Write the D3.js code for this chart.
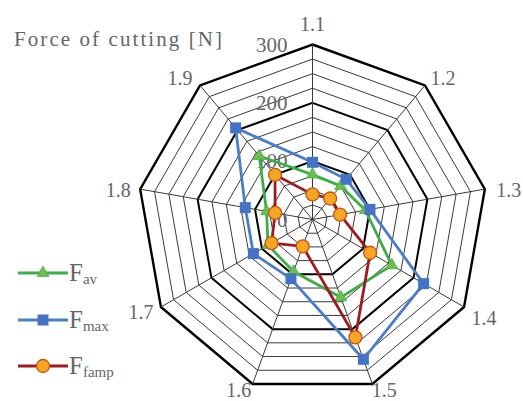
<!DOCTYPE html>
<html>
<head>
<meta charset="utf-8">
<script src="https://cdn.jsdelivr.net/npm/d3@7"></script>
<style>
  body { margin: 0; background: #fff; }
</style>
</head>
<body>
<svg id="radar" width="523" height="401" font-family="'Liberation Serif', 'Times New Roman', Times, 'DejaVu Serif', serif"></svg>
<script>
// data
var categories = ["1.1", "1.2", "1.3", "1.4", "1.5", "1.6", "1.7", "1.8", "1.9"];
var fAv   = [77, 75, 92, 157, 142, 95, 88, 80, 142];
var fMax  = [98, 90, 100, 220, 255, 108, 117, 117, 205];
var fFamp = [43, 47, 48, 114, 215, 49, 81, 65, 100];
var ringValues = d3.range(25, 301, 25);
var axisLabels = [0, 100, 200, 300];

var svg = d3.select("#radar");
var cx = 312.5, cy = 219.5;
var textColor = "#666";

var r = d3.scaleLinear().domain([0, 300]).range([0, 175]);
var angle = d3.scaleLinear().domain([0, categories.length]).range([0, 2 * Math.PI]);

function px(i, v) { return cx + r(v) * Math.sin(angle(i)); }
function py(i, v) { return cy - r(v) * Math.cos(angle(i)); }

var g = svg.append("g");

// rings
ringValues.forEach(function(v) {
  var pts = categories.map(function(c, i) { return [px(i, v), py(i, v)]; });
  var major = v % 100 === 0;
  g.append("polygon")
    .attr("points", pts.map(function(p) { return p.join(","); }).join(" "))
    .attr("fill", "none")
    .attr("stroke", major ? "#000" : "#3a3a3a")
    .attr("stroke-width", v === 300 ? 2.4 : (major ? 2 : 1));
});

// spokes
categories.forEach(function(c, i) {
  g.append("line")
    .attr("x1", cx).attr("y1", cy)
    .attr("x2", px(i, 300)).attr("y2", py(i, 300))
    .attr("stroke", "#3a3a3a").attr("stroke-width", 1);
});

// radial axis labels
axisLabels.forEach(function(v) {
  g.append("text")
    .attr("x", px(0, v) - 25)
    .attr("y", py(0, v) + 7)
    .attr("text-anchor", "end")
    .attr("font-size", 21)
    .attr("fill", textColor)
    .text(v);
});

// category labels
var labelOffsets = [[0, -14], [18, 0], [24, 8], [20, 18], [12, 13], [-14, 13], [-20, 12], [-22, 8], [-20, 0]];
categories.forEach(function(c, i) {
  var o = labelOffsets[i];
  g.append("text")
    .attr("x", px(i, 300) + o[0])
    .attr("y", py(i, 300) + o[1])
    .attr("text-anchor", "middle")
    .attr("font-size", 20)
    .attr("fill", textColor)
    .text(c);
});

var series = [
  {name: "F", sub: "av", values: fAv, line: "#3fae49", fill: "#6cc04a", marker: "triangle"},
  {name: "F", sub: "max", values: fMax, line: "#4a7cc8", fill: "#4472c4", marker: "square"},
  {name: "F", sub: "famp", values: fFamp, line: "#9e1c20", fill: "#f6a623", marker: "circle"}
];

var lineGen = d3.line().curve(d3.curveLinearClosed);

function drawMarker(sel, s, x, y) {
  if (s.marker === "triangle") {
    sel.append("path")
      .attr("d", d3.symbol().type(d3.symbolTriangle).size(60)())
      .attr("transform", "translate(" + x + "," + y + ")")
      .attr("fill", s.fill).attr("stroke", s.line).attr("stroke-width", 0.8);
  } else if (s.marker === "square") {
    sel.append("rect")
      .attr("x", x - 5.5).attr("y", y - 5.5).attr("width", 11).attr("height", 11)
      .attr("fill", s.fill);
  } else {
    sel.append("circle")
      .attr("cx", x).attr("cy", y).attr("r", 6.5)
      .attr("fill", s.fill).attr("stroke", "#c0561a").attr("stroke-width", 1.3);
  }
}

series.forEach(function(s) {
  var pts = s.values.map(function(v, i) { return [px(i, v), py(i, v)]; });
  g.append("path")
    .attr("d", lineGen(pts))
    .attr("fill", "none")
    .attr("stroke", s.line)
    .attr("stroke-width", 2.8);
  pts.forEach(function(p) { drawMarker(g, s, p[0], p[1]); });
});

// title
svg.append("text")
  .attr("x", 14).attr("y", 46)
  .attr("font-size", 21)
  .attr("fill", textColor)
  .attr("textLength", 208)
  .attr("lengthAdjust", "spacing")
  .text("Force of cutting [N]");

// legend
var legendY = [273, 320, 366];
series.forEach(function(s, i) {
  var lg = svg.append("g");
  lg.append("line")
    .attr("x1", 18).attr("x2", 68)
    .attr("y1", legendY[i]).attr("y2", legendY[i])
    .attr("stroke", s.line).attr("stroke-width", 2.8);
  drawMarker(lg, s, 43, legendY[i]);
  var t = lg.append("text")
    .attr("x", 69).attr("y", legendY[i] + 8)
    .attr("font-size", 25)
    .attr("fill", textColor);
  t.append("tspan").text(s.name);
  t.append("tspan").attr("font-size", 15).attr("dy", 3).text(s.sub);
});
</script>
</body>
</html>
